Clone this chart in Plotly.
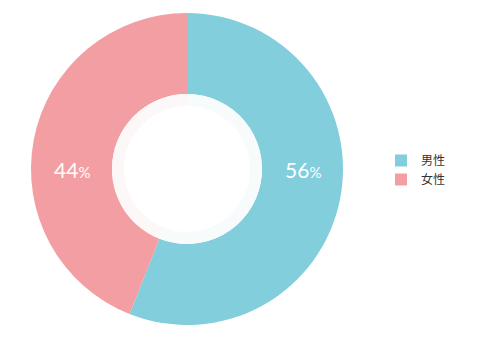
import plotly.graph_objects as go

labels = ["男性", "女性"]
values = [56, 44]
colors = ["#82cedc", "#f29ea2"]
ring_colors = ["#f7fbfc", "#fdf8f8"]

W, H = 480, 340
cx, cy, R, r_hole = 187, 169, 156, 75

fig = go.Figure()
fig.add_trace(go.Pie(
    labels=labels, values=values, sort=False, direction="clockwise", rotation=0,
    hole=r_hole / R, marker=dict(colors=colors, line=dict(width=0)),
    textinfo="none", hoverinfo="label+percent",
    domain=dict(x=[(cx - R) / W, (cx + R) / W], y=[(H - cy - R) / H, (H - cy + R) / H]),
))
fig.add_trace(go.Pie(
    labels=[l + " " for l in labels], values=values, sort=False, direction="clockwise", rotation=0,
    hole=0.84, marker=dict(colors=ring_colors, line=dict(width=0)),
    textinfo="none", hoverinfo="skip", showlegend=False,
    domain=dict(x=[(cx - r_hole) / W, (cx + r_hole) / W], y=[(H - cy - r_hole) / H, (H - cy + r_hole) / H]),
))

mid = (R + r_hole) / 2
for v, dx in zip(values, [mid, -mid]):
    fig.add_annotation(
        x=(cx + dx) / W, y=(H - cy) / H, xref="paper", yref="paper",
        xanchor="center", yanchor="middle",
        text=f"{v}<span style='font-size:15px'>%</span>", showarrow=False,
        font=dict(color="white", size=21, family="Lato"),
    )

fig.update_layout(
    width=W, height=H, margin=dict(l=0, r=0, t=0, b=0),
    paper_bgcolor="white", plot_bgcolor="white",
    legend=dict(x=381 / W, y=0.5, xanchor="left", yanchor="middle",
                font=dict(size=12, color="#333", family="Noto Sans CJK JP"),
                itemwidth=30, tracegroupgap=2),
)
fig.write_html("out.html")
